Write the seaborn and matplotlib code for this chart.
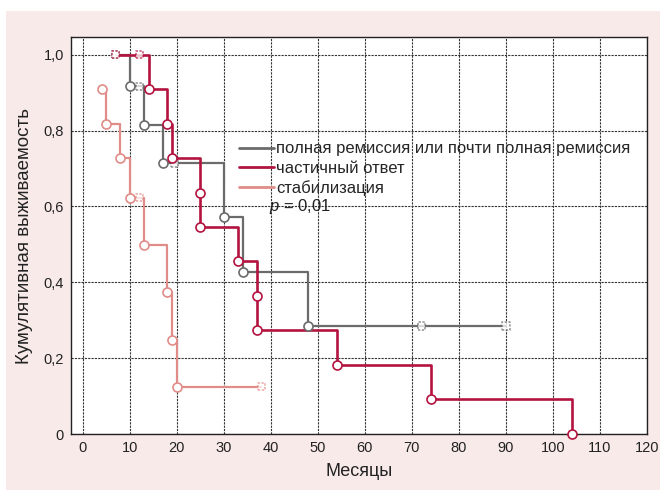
import matplotlib
matplotlib.use('Agg')
import matplotlib.pyplot as plt
import seaborn as sns
from matplotlib.lines import Line2D
from matplotlib.patches import Rectangle

# Kaplan-Meier data: time, survival, censored flag
grey_t = [7, 10, 12, 13, 17, 19.5, 30, 34, 48, 72, 90]
grey_s = [1.0, 0.917, 0.917, 0.815, 0.714, 0.714, 0.571, 0.428, 0.285, 0.285, 0.285]
grey_c = [1, 0, 1, 0, 0, 1, 0, 0, 0, 1, 1]

red_t = [7, 12, 14, 18, 19, 25, 25, 33, 37, 37, 54, 74, 104]
red_s = [1.0, 1.0, 0.909, 0.818, 0.727, 0.636, 0.545, 0.455, 0.364, 0.273, 0.182, 0.091, 0.0]
red_c = [1, 1, 0, 0, 0, 0, 0, 0, 0, 0, 0, 0, 0]

pink_t = [4, 5, 8, 10, 12, 13, 18, 19, 20, 38]
pink_s = [0.909, 0.818, 0.727, 0.623, 0.623, 0.499, 0.374, 0.249, 0.125, 0.125]
pink_c = [0, 0, 0, 0, 1, 0, 0, 0, 0, 1]

labels = ['полная ремиссия или почти полная ремиссия', 'частичный ответ', 'стабилизация']
colors = ['#6b6b6b', '#b3133f', '#e08c88']
xticks = list(range(0, 121, 10))
yticks = [0, 0.2, 0.4, 0.6, 0.8, 1.0]
ytick_labels = ['0', '0,2', '0,4', '0,6', '0,8', '1,0']

sns.set_style('white')
plt.rcParams['font.family'] = ['Liberation Sans', 'DejaVu Sans']
plt.rcParams['mathtext.fontset'] = 'custom'
plt.rcParams['mathtext.it'] = 'Liberation Sans:italic'
plt.rcParams['mathtext.rm'] = 'Liberation Sans'

fig = plt.figure(figsize=(6.64, 4.96), dpi=100)
fig.patches.append(Rectangle((6/664, 6/496), 654/664, 479/496, transform=fig.transFigure,
                             facecolor='#f8eae9', edgecolor='none', zorder=-10))
ax = fig.add_axes([71/664, 1-434/496, 576/664, 397/496])

groups = [(grey_t, grey_s, grey_c, 1.6), (red_t, red_s, red_c, 1.9), (pink_t, pink_s, pink_c, 1.6)]
for (t, s, c, lw), col in zip(groups, colors):
    sns.lineplot(x=t, y=s, drawstyle='steps-post', estimator=None, sort=False,
                 color=col, lw=lw, ax=ax, zorder=3)
    ev_x = [a for a, f in zip(t, c) if f == 0]
    ev_y = [b for b, f in zip(s, c) if f == 0]
    ce_x = [a for a, f in zip(t, c) if f == 1]
    ce_y = [b for b, f in zip(s, c) if f == 1]
    sns.scatterplot(x=ev_x, y=ev_y, marker='o', s=42, color='white', edgecolor=col,
                    linewidth=1.2, ax=ax, zorder=4, clip_on=False)
    sns.scatterplot(x=ce_x, y=ce_y, marker='s', s=28, color='white', edgecolor=col,
                    linewidth=1.1, alpha=0.75, linestyle=(0, (1.5, 1)), ax=ax, zorder=4,
                    clip_on=False)

ax.set_xlim(-2.5, 120)
ax.set_ylim(0, 1.047)
ax.set_xticks(xticks)
ax.set_yticks(yticks)
ax.set_yticklabels(ytick_labels)
ax.grid(True, color='#333333', linestyle=(0, (2, 1)), linewidth=0.8)
ax.set_axisbelow(True)
ax.tick_params(direction='in', length=4, width=0.8, labelsize=10.5, colors='#222222', pad=5)
for sp in ax.spines.values():
    sp.set_color('#222222')
    sp.set_linewidth(1.0)

ax.set_xlabel('Месяцы', fontsize=13, color='#222222', labelpad=6)
ax.set_ylabel('Кумулятивная выживаемость', fontsize=13.5, color='#222222', labelpad=8)

handles = [Line2D([], [], color=col, lw=2) for col in colors]
ax.legend(handles, labels, loc='upper left', bbox_to_anchor=(0.292, 0.737), frameon=False,
          fontsize=12, handlelength=2.1, handletextpad=0.12, labelspacing=0.25,
          borderpad=0, borderaxespad=0)
ax.text(39.6, 0.599, r'$p$ = 0,01', fontsize=12, color='#222222', va='center', ha='left')

fig.savefig('out.png', dpi=100, facecolor='white')
